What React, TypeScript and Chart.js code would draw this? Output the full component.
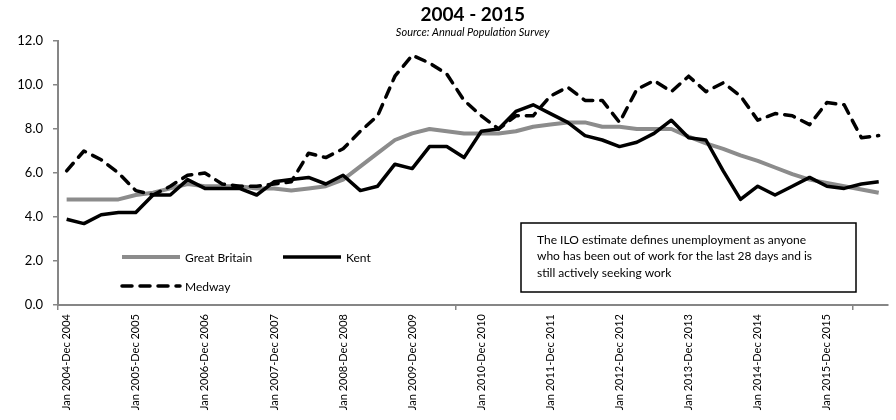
import React, { useEffect, useRef } from 'react';
import { Chart, registerables } from 'chart.js';

Chart.register(...registerables);

const categories = [
  'Jan 2004-Dec 2004', 'Apr 2004-Mar 2005', 'Jul 2004-Jun 2005', 'Oct 2004-Sep 2005',
  'Jan 2005-Dec 2005', 'Apr 2005-Mar 2006', 'Jul 2005-Jun 2006', 'Oct 2005-Sep 2006',
  'Jan 2006-Dec 2006', 'Apr 2006-Mar 2007', 'Jul 2006-Jun 2007', 'Oct 2006-Sep 2007',
  'Jan 2007-Dec 2007', 'Apr 2007-Mar 2008', 'Jul 2007-Jun 2008', 'Oct 2007-Sep 2008',
  'Jan 2008-Dec 2008', 'Apr 2008-Mar 2009', 'Jul 2008-Jun 2009', 'Oct 2008-Sep 2009',
  'Jan 2009-Dec 2009', 'Apr 2009-Mar 2010', 'Jul 2009-Jun 2010', 'Oct 2009-Sep 2010',
  'Jan 2010-Dec 2010', 'Apr 2010-Mar 2011', 'Jul 2010-Jun 2011', 'Oct 2010-Sep 2011',
  'Jan 2011-Dec 2011', 'Apr 2011-Mar 2012', 'Jul 2011-Jun 2012', 'Oct 2011-Sep 2012',
  'Jan 2012-Dec 2012', 'Apr 2012-Mar 2013', 'Jul 2012-Jun 2013', 'Oct 2012-Sep 2013',
  'Jan 2013-Dec 2013', 'Apr 2013-Mar 2014', 'Jul 2013-Jun 2014', 'Oct 2013-Sep 2014',
  'Jan 2014-Dec 2014', 'Apr 2014-Mar 2015', 'Jul 2014-Jun 2015', 'Oct 2014-Sep 2015',
  'Jan 2015-Dec 2015', 'Apr 2015-Mar 2016', 'Jul 2015-Jun 2016', 'Oct 2015-Sep 2016',
];

const greatBritain = [
  4.8, 4.8, 4.8, 4.8, 5.0, 5.1, 5.3, 5.5, 5.4, 5.4, 5.4, 5.3,
  5.3, 5.2, 5.3, 5.4, 5.7, 6.3, 6.9, 7.5, 7.8, 8.0, 7.9, 7.8,
  7.8, 7.8, 7.9, 8.1, 8.2, 8.3, 8.3, 8.1, 8.1, 8.0, 8.0, 8.0,
  7.65, 7.35, 7.1, 6.8, 6.55, 6.25, 5.95, 5.7, 5.55, 5.4, 5.25, 5.1,
];

const kent = [
  3.9, 3.7, 4.1, 4.2, 4.2, 5.0, 5.0, 5.7, 5.3, 5.3, 5.3, 5.0,
  5.6, 5.7, 5.8, 5.5, 5.9, 5.2, 5.4, 6.4, 6.2, 7.2, 7.2, 6.7,
  7.9, 8.0, 8.8, 9.1, 8.7, 8.3, 7.7, 7.5, 7.2, 7.4, 7.8, 8.4,
  7.6, 7.5, 6.1, 4.8, 5.4, 5.0, 5.4, 5.8, 5.4, 5.3, 5.5, 5.6,
];

const medway = [
  6.1, 7.0, 6.6, 6.0, 5.2, 5.0, 5.4, 5.9, 6.0, 5.5, 5.4, 5.4,
  5.5, 5.6, 6.9, 6.7, 7.1, 7.9, 8.6, 10.4, 11.35, 11.0, 10.5, 9.3,
  8.6, 8.0, 8.6, 8.6, 9.5, 9.9, 9.3, 9.3, 8.3, 9.8, 10.2, 9.7,
  10.4, 9.7, 10.1, 9.5, 8.4, 8.7, 8.6, 8.2, 9.2, 9.1, 7.6, 7.7,
];

const seriesNames = ['Great Britain', 'Kent', 'Medway'];
const titleText = '2004 - 2015';
const subtitleText = 'Source: Annual Population Survey';
const noteLines = [
  'The ILO estimate defines unemployment as anyone',
  'who has been out of work for the last 28 days and is',
  'still actively seeking work',
];
const yMin = 0;
const yMax = 12;
const yStep = 2;
const labelEvery = 4;
const boundaryTicks = [0, 23, 46];

const FONT = 'Lato, "Open Sans", "Liberation Sans", sans-serif';
const GB_GRAY = '#8c8c8c';
const AXIS_GRAY = '#868686';

const overlayPlugin = {
  id: 'overlay',
  afterDraw(chart: any) {
    const { ctx, chartArea } = chart;
    const L = chartArea.left;
    const B = chartArea.bottom;
    ctx.save();
    // legend
    const items = [
      { ds: 0, x: L + 64, y: B - 48 },
      { ds: 1, x: L + 225, y: B - 48 },
      { ds: 2, x: L + 64, y: B - 19 },
    ];
    ctx.font = `12px ${FONT}`;
    ctx.textBaseline = 'middle';
    ctx.textAlign = 'left';
    items.forEach((it) => {
      const ds = chart.data.datasets[it.ds];
      ctx.save();
      ctx.strokeStyle = ds.borderColor;
      ctx.lineWidth = ds.borderWidth;
      ctx.lineCap = ds.borderCapStyle || 'butt';
      ctx.setLineDash(ds.borderDash || []);
      ctx.beginPath();
      ctx.moveTo(it.x, it.y);
      ctx.lineTo(it.x + 58, it.y);
      ctx.stroke();
      ctx.restore();
      ctx.fillStyle = '#000';
      ctx.fillText(ds.label, it.x + 63, it.y + 1);
    });
    // note box
    const bx = L + 463;
    const by = B - 82;
    const bw = 335;
    const bh = 69;
    ctx.fillStyle = '#fff';
    ctx.fillRect(bx, by, bw, bh);
    ctx.strokeStyle = '#000';
    ctx.lineWidth = 1.5;
    ctx.setLineDash([]);
    ctx.strokeRect(bx, by, bw, bh);
    ctx.fillStyle = '#000';
    ctx.font = `12px ${FONT}`;
    noteLines.forEach((line, i) => {
      ctx.fillText(line, bx + 16, by + 17 + i * 16.5);
    });
    ctx.restore();
  },
};

export default function App() {
  const ref = useRef<HTMLCanvasElement | null>(null);

  useEffect(() => {
    document.body.style.margin = '0';
    const canvas = ref.current;
    if (!canvas) return;
    const chart = new Chart(canvas, {
      type: 'line',
      data: {
        labels: categories,
        datasets: [
          {
            label: seriesNames[0],
            data: greatBritain,
            borderColor: GB_GRAY,
            backgroundColor: GB_GRAY,
            borderWidth: 4,
            pointRadius: 0,
            tension: 0,
            borderJoinStyle: 'round',
            borderCapStyle: 'butt',
            order: 3,
          },
          {
            label: seriesNames[1],
            data: kent,
            borderColor: '#000',
            backgroundColor: '#000',
            borderWidth: 3.5,
            pointRadius: 0,
            tension: 0,
            borderJoinStyle: 'round',
            borderCapStyle: 'butt',
            order: 2,
          },
          {
            label: seriesNames[2],
            data: medway,
            borderColor: '#000',
            backgroundColor: '#000',
            borderWidth: 3.5,
            borderDash: [10, 8],
            borderCapStyle: 'round',
            pointRadius: 0,
            tension: 0,
            borderJoinStyle: 'round',
            order: 1,
          },
        ],
      },
      options: {
        responsive: false,
        animation: false,
        events: [],
        layout: { padding: { top: 0, right: 8, bottom: 0, left: 0 } },
        plugins: {
          legend: { display: false },
          tooltip: { enabled: false },
          title: {
            display: true,
            text: titleText,
            fullSize: false,
            color: '#000',
            font: { family: FONT, size: 19, weight: 'bold', lineHeight: 1.2 },
            padding: { top: 3, bottom: 0 },
          },
          subtitle: {
            display: true,
            text: subtitleText,
            fullSize: false,
            color: '#000',
            font: { family: FONT, size: 11, style: 'italic', lineHeight: 1.2 },
            padding: { top: 0, bottom: 2 },
          },
        },
        scales: {
          x: {
            type: 'category',
            offset: true,
            afterFit: (s: any) => {
              s.height = 115;
            },
            border: { display: true, color: AXIS_GRAY, width: 2 },
            grid: {
              offset: true,
              drawOnChartArea: false,
              drawTicks: true,
              tickLength: 5,
              lineWidth: 1.5,
              color: (c: any) => (boundaryTicks.includes(c.index) ? AXIS_GRAY : 'rgba(0,0,0,0)'),
            },
            ticks: {
              autoSkip: false,
              minRotation: 90,
              maxRotation: 90,
              padding: 4,
              color: '#000',
              font: { family: FONT, size: 11 },
              callback: (_v: any, i: number) => (i % labelEvery === 0 ? categories[i] : ''),
            },
          },
          y: {
            min: yMin,
            max: yMax,
            afterFit: (s: any) => {
              s.width = 58;
            },
            border: { display: true, color: AXIS_GRAY, width: 2 },
            grid: {
              drawOnChartArea: false,
              drawTicks: true,
              tickLength: 5,
              lineWidth: 1.5,
              color: AXIS_GRAY,
            },
            ticks: {
              stepSize: yStep,
              padding: 10,
              color: '#000',
              font: { family: FONT, size: 13 },
              callback: (v: any) => Number(v).toFixed(1),
            },
          },
        },
      },
      plugins: [overlayPlugin],
    });
    return () => chart.destroy();
  }, []);

  return (
    <div style={{ width: 896, height: 420 }}>
      <canvas ref={ref} width={896} height={420} style={{ display: 'block' }} />
    </div>
  );
}
